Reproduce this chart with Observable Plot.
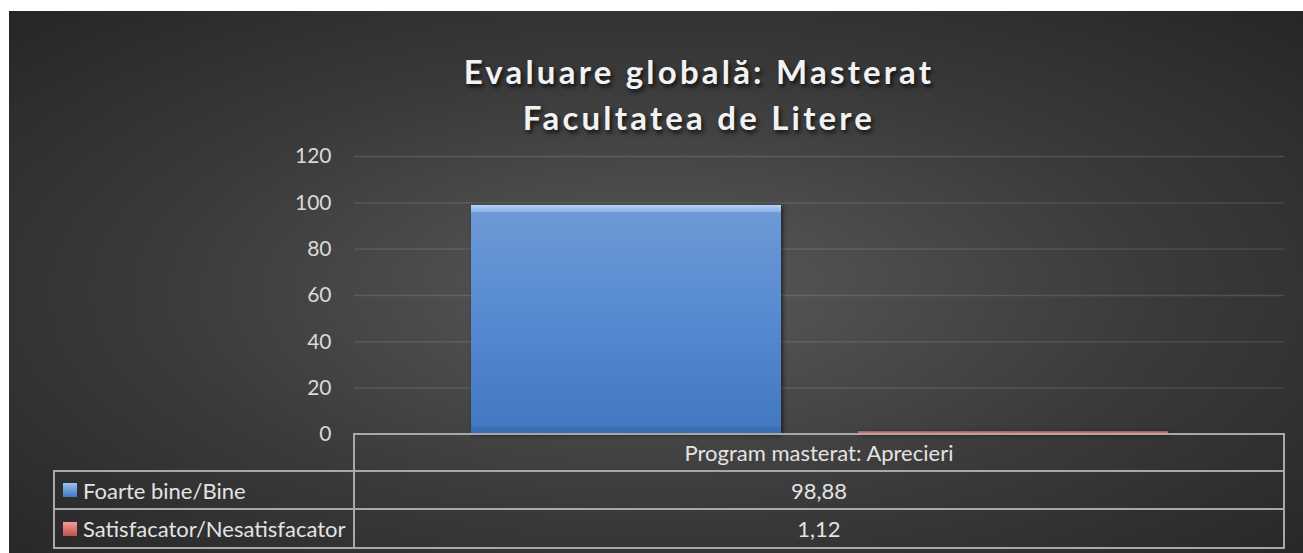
<!DOCTYPE html>
<html>
<head>
<meta charset="utf-8">
<script src="https://cdn.jsdelivr.net/npm/d3@7"></script>
<script src="https://cdn.jsdelivr.net/npm/@observablehq/plot@0.6"></script>
<style>
  html, body { margin: 0; padding: 0; background: #fff; }
  body { width: 1303px; height: 553px; position: relative; overflow: hidden; font-family: Lato, "Open Sans", sans-serif; }
  #chart { position: absolute; left: 9px; top: 11px; width: 1294px; height: 542px;
    background: radial-gradient(ellipse farthest-corner at 50% 52%, #5a5a5a 0%, #3a3a3a 55%, #262626 100%); }
  #title { position: absolute; left: 690px; top: 37px; transform: translateX(-50%); text-align: center;
    color: #f2f2f2; font-weight: bold; font-size: 33px; letter-spacing: 3.2px; line-height: 46px; white-space: nowrap;
    text-shadow: 2px 3px 4px rgba(0,0,0,0.75); }
  #plot { position: absolute; left: 0; top: 129px; }
  .cell { position: absolute; box-sizing: border-box; color: #e3e3e3; font-size: 22px; display: flex; align-items: center; white-space: nowrap; }
  .line { position: absolute; background: #a8a8a8; }
  .key { display: inline-block; width: 14px; height: 14px; margin-right: 6px; margin-left: 9px; }
</style>
</head>
<body>
<div id="chart">
  <div id="title"></div>
  <div id="plot"></div>
  <div id="table"></div>
</div>
<script>
const titleLines = ["Evaluare globală: Masterat", "Facultatea de Litere"];
const categories = ["Program masterat: Aprecieri"];
const series = ["Foarte bine/Bine", "Satisfacator/Nesatisfacator"];
const values = [98.88, 1.12];
const yTicks = [0, 20, 40, 60, 80, 100, 120];
const seriesFill = ["url(#gradBlue)", "url(#gradRed)"];

const data = series.map((s, i) => ({series: s, value: values[i], category: categories[0], fill: seriesFill[i]}));

document.getElementById("title").innerHTML = titleLines.join("<br>");

const plot = Plot.plot({
  width: 1294,
  height: 300,
  marginLeft: 345,
  marginRight: 19,
  marginTop: 16,
  marginBottom: 6,
  style: {background: "transparent", fontFamily: "Lato, 'Open Sans', sans-serif", fontSize: "21px", color: "#d9d9d9", overflow: "visible"},
  x: {domain: series, paddingInner: 0.199, paddingOuter: 0.3, axis: null},
  y: {domain: [0, 120], ticks: yTicks, grid: false, label: null, tickSize: 0, tickPadding: 23},
  color: {type: "identity"},
  marks: [
    Plot.ruleY(yTicks.filter(t => t > 0), {stroke: "#ffffff", strokeOpacity: 0.13, strokeWidth: 1.3}),
    Plot.barY(data, {x: "series", y: "value", fill: "fill"})
  ]
});
document.getElementById("plot").appendChild(plot);

const svg = d3.select(plot);
const defs = svg.insert("defs", ":first-child");
function grad(id, stops) {
  const g = defs.append("linearGradient").attr("id", id).attr("x1", 0).attr("y1", 0).attr("x2", 0).attr("y2", 1);
  stops.forEach(([o, c]) => g.append("stop").attr("offset", o).attr("stop-color", c));
}
grad("gradBlue", [[0, "#b4d2f5"], [0.012, "#a2c5f0"], [0.03, "#8bb4e8"], [0.034, "#6d99d6"], [0.5, "#568ad0"], [0.96, "#4379c2"], [0.975, "#3b6eb3"], [1, "#3a6cad"]]);
grad("gradRed", [[0, "#f08a88"], [0.5, "#d9605d"], [1, "#c0504d"]]);
svg.selectAll("g[aria-label='bar'] rect").style("filter", "drop-shadow(2px 1px 2px rgba(0,0,0,0.55))");
svg.selectAll("g[aria-label='y-axis tick label'] text, g[aria-label='y-axis'] text").attr("fill", "#d9d9d9");

// data table (positions relative to #chart)
const T = document.getElementById("table");
const L = 45, C = 345, R = 1275;
const rows = [423, 460, 498, 537];
function line(x, y, w, h) { const d = document.createElement("div"); d.className = "line";
  Object.assign(d.style, {left: x + "px", top: y + "px", width: w + "px", height: h + "px"}); T.appendChild(d); }
function cell(x, y, w, h, html, center) { const d = document.createElement("div"); d.className = "cell";
  Object.assign(d.style, {left: x + "px", top: y + "px", width: w + "px", height: h + "px", justifyContent: center ? "center" : "flex-start"});
  d.innerHTML = html; T.appendChild(d); }
cell(C, rows[0], R - C, rows[1] - rows[0], categories[0], true);
const keyColors = [["#9cc2f0", "#3f77c2"], ["#f29a98", "#c0504d"]];
series.forEach((s, i) => {
  const y0 = rows[i + 1], h = rows[i + 2] - rows[i + 1];
  cell(L, y0, C - L, h, `<span class="key" style="background:linear-gradient(${keyColors[i][0]}, ${keyColors[i][1]})"></span>${s}`, false);
  cell(C, y0, R - C, h, d3.format(".2f")(values[i]).replace(".", ","), true);
});
// borders
line(C - 1, rows[0] - 1, R - C + 2, 2);
line(L - 1, rows[1] - 1, R - L + 2, 2);
line(L - 1, rows[2] - 1, R - L + 2, 2);
line(L - 1, rows[3] - 1, R - L + 2, 2);
line(C - 1, rows[0] - 1, 2, rows[3] - rows[0] + 2);
line(R - 1, rows[0] - 1, 2, rows[3] - rows[0] + 2);
line(L - 1, rows[1] - 1, 2, rows[3] - rows[1] + 2);
</script>
</body>
</html>
